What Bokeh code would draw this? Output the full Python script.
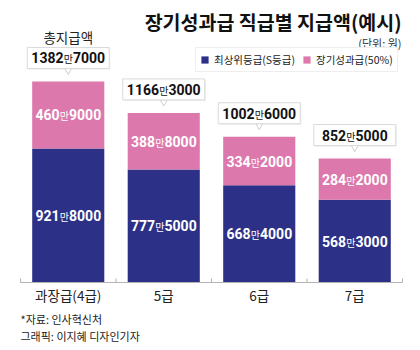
from bokeh.plotting import figure
from bokeh.models import ColumnDataSource, Range1d, Legend, LegendItem
from bokeh.core.properties import value
from bokeh.embed import file_html
from bokeh.resources import INLINE

# ---------------- data ----------------
categories = ["과장급(4급)", "5급", "6급", "7급"]
top_grade = [9218000, 7775000, 6684000, 5683000]   # 최상위등급(S등급), 원
bonus = [4609000, 3888000, 3342000, 2842000]        # 장기성과급(50%), 원
series_names = ["최상위등급(S등급)", "장기성과급(50%)"]

title_text = "장기성과급 직급별 지급액(예시)"
unit_text = "(단위: 원)"
total_text = "총지급액"
source_text = "*자료: 인사혁신처"
credit_text = "그래픽: 이지혜 디자인기자"

# ---------------- style / layout ----------------
NAVY = "#2c3187"
PINK = "#dd78ad"
W, H = 420, 350
LEFT = 20          # px of first category boundary
PPU_X = 95.5       # px per category
BASE = 282         # px (from top) of baseline
PPU_Y = 0.1454     # px per 만원
KFONT = "Noto Sans CJK KR"
NFONT = "Roboto"
DW = 7.9           # digit width (px) at number font size
MW = 9.5           # width of "만"
NUM_SIZE = "14px"
MAN_SIZE = "10px"

x_start = -0.5 - LEFT / PPU_X
x_end = x_start + W / PPU_X
y_end = BASE / PPU_Y
y_start = y_end - H / PPU_Y


def PX(px):
    return x_start + px / PPU_X


def PY(py):
    return y_end - py / PPU_Y


idx = list(range(len(categories)))
totals = [a + b for a, b in zip(top_grade, bonus)]
base_m = [v / 1e4 for v in top_grade]
total_m = [v / 1e4 for v in totals]


def split(v):
    return str(v // 10000), f"{v % 10000:04d}"


def offsets(left, right):
    tw = (len(left) + len(right)) * DW + MW
    le = -tw / 2 + len(left) * DW
    return le, le + MW / 2, le + MW


def parts(vals):
    L, R, lo, mo, ro = [], [], [], [], []
    for v in vals:
        l, r = split(v)
        a, b, c = offsets(l, r)
        L.append(l); R.append(r); lo.append(a); mo.append(b); ro.append(c)
    return L, R, lo, mo, ro


p = figure(width=W, height=H, x_range=Range1d(x_start, x_end),
           y_range=Range1d(y_start, y_end), x_axis_type=None, y_axis_type=None,
           toolbar_location=None, output_backend="svg", min_border=0,
           outline_line_color=None, background_fill_color="white",
           border_fill_color="white")

src = ColumnDataSource(dict(
    x=idx, cat=categories, base=base_m, total=total_m,
    blue_mid=[b / 2 for b in base_m],
    pink_mid=[(b + t) / 2 for b, t in zip(base_m, total_m)],
    box_y=[t + 23.5 / PPU_Y for t in total_m],
    shadow_y=[t + 22.5 / PPU_Y for t in total_m],
    shadow_x=[i + 1.0 / PPU_X for i in idx],
    tri_y=[t + 11.0 / PPU_Y for t in total_m],
))

r_blue = p.vbar(x="x", bottom=0, top="base", width=0.755, fill_color=NAVY,
                line_color=None, source=src)
r_pink = p.vbar(x="x", bottom="base", top="total", width=0.755, fill_color=PINK,
                line_color=None, source=src)

# baseline + ticks at category boundaries
bounds = [i - 0.5 for i in idx] + [idx[-1] + 0.5]
p.segment(x0=bounds[0], x1=bounds[-1], y0=0, y1=0, line_color="#b3b3b3", line_width=1)
p.segment(x0=bounds, x1=bounds, y0=[0] * len(bounds), y1=[4 / PPU_Y] * len(bounds),
          line_color="#b3b3b3", line_width=1)

# callout boxes
p.rect(x="shadow_x", y="shadow_y", width=82, height=21, width_units="screen",
       height_units="screen", fill_color="#ececec", line_color=None, source=src)
p.scatter(x="x", y="tri_y", marker="inverted_triangle", size=7, fill_color="white",
          line_color="#cfcfcf", source=src)
p.rect(x="x", y="box_y", width=82, height=21, width_units="screen",
       height_units="screen", fill_color="white", line_color="#dadada", source=src)


def number_label(vals, ycol, yoff, color):
    L, R, lo, mo, ro = parts(vals)
    s = ColumnDataSource(dict(x=idx, y=src.data[ycol], L=L, R=R, lo=lo, mo=mo, ro=ro,
                              man=["만"] * len(idx)))
    p.text(x="x", y="y", text="L", x_offset="lo", y_offset=yoff, text_align="right",
           text_baseline="middle", text_font=value(NFONT), text_font_style="bold",
           text_font_size=NUM_SIZE, text_color=color, source=s)
    p.text(x="x", y="y", text="man", x_offset="mo", y_offset=yoff + 1, text_align="center",
           text_baseline="middle", text_font=value(KFONT), text_font_size=MAN_SIZE,
           text_color=color, source=s)
    p.text(x="x", y="y", text="R", x_offset="ro", y_offset=yoff, text_align="left",
           text_baseline="middle", text_font=value(NFONT), text_font_style="bold",
           text_font_size=NUM_SIZE, text_color=color, source=s)


number_label(totals, "total", -23.5, "#111111")
number_label(bonus, "pink_mid", 0, "white")
number_label(top_grade, "blue_mid", 0, "white")

# category labels
p.text(x="x", y=0, text="cat", y_offset=12, text_align="center", text_baseline="middle",
       text_font=value(KFONT), text_font_size="13.5px", text_color="#222222", source=src)

# titles and notes
p.text(x=[PX(401)], y=[PY(21)], text=[title_text], text_align="right",
       text_baseline="middle", text_font=value(KFONT), text_font_style="bold",
       text_font_size="19.5px", text_color="#111111")
p.text(x=[PX(401)], y=[PY(42)], text=[unit_text], text_align="right",
       text_baseline="middle", text_font=value(KFONT), text_font_size="11px",
       text_color="#333333")
p.text(x=[idx[0]], y=[PY(36)], text=[total_text], text_align="center",
       text_baseline="middle", text_font=value(KFONT), text_font_size="13.5px",
       text_color="#222222")
p.text(x=[PX(20)], y=[PY(318)], text=[source_text], text_align="left",
       text_baseline="middle", text_font=value(KFONT), text_font_size="11px",
       text_color="#222222")
p.text(x=[PX(20)], y=[PY(335)], text=[credit_text], text_align="left",
       text_baseline="middle", text_font=value(KFONT), text_font_size="11px",
       text_color="#222222")

legend = Legend(items=[LegendItem(label=series_names[0], renderers=[r_blue]),
                       LegendItem(label=series_names[1], renderers=[r_pink])],
                orientation="horizontal", location=(195, H - 72), margin=0,
                padding=4, spacing=7, label_standoff=5, glyph_width=9, glyph_height=9,
                label_height=12, label_text_font=KFONT, label_text_font_size="10.5px",
                label_text_color="#222222", border_line_color="#dddddd",
                background_fill_color="white", background_fill_alpha=1.0)
p.add_layout(legend)

open("out.html", "w").write(file_html(p, INLINE))
